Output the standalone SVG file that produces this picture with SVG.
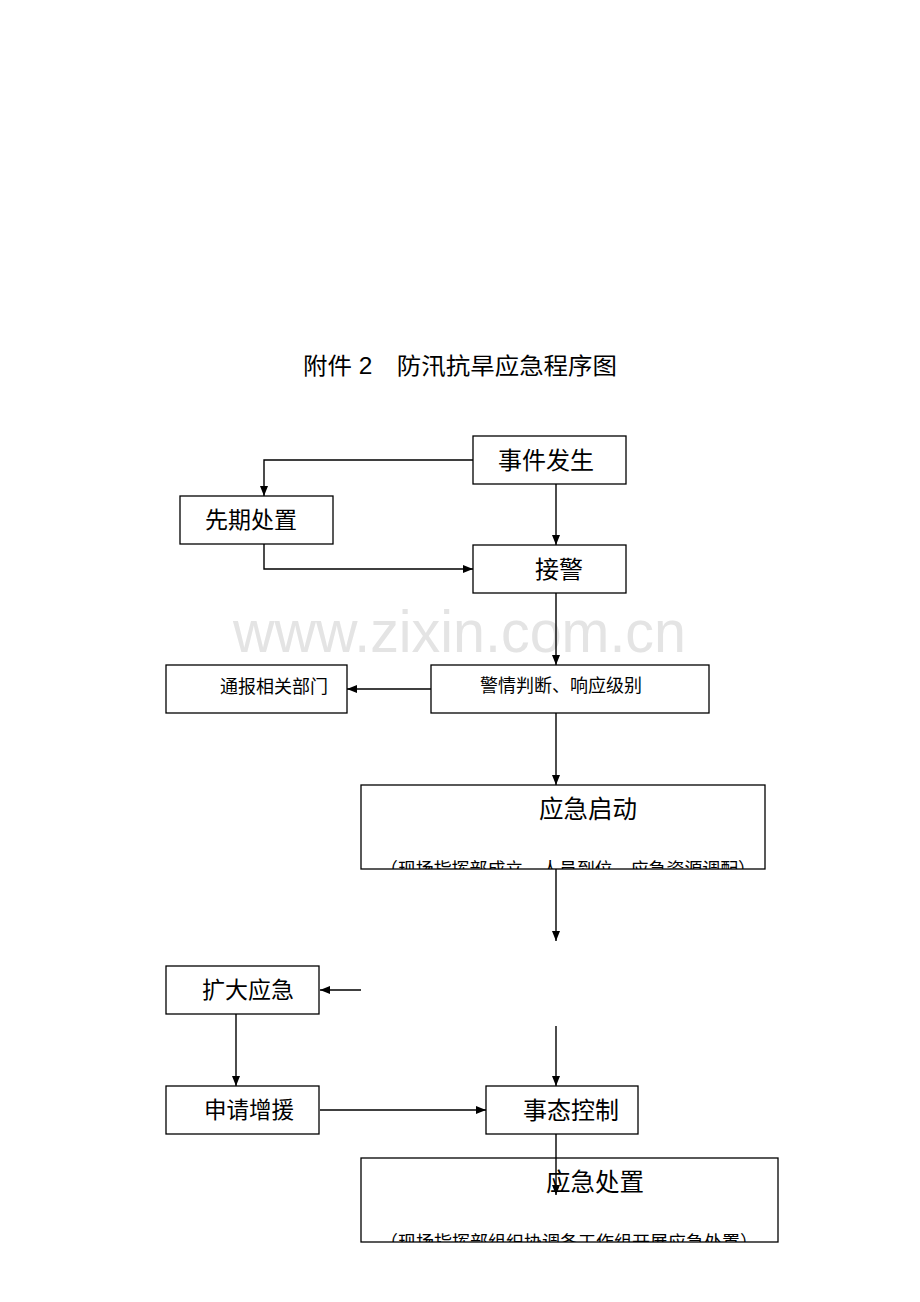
<svg xmlns="http://www.w3.org/2000/svg" width="920" height="1302" viewBox="0 0 920 1302">
<style>
.box{fill:#fff;stroke:#000;stroke-width:1.3}
.t{font-family:"Liberation Sans","Noto Sans CJK SC",sans-serif;fill:#000}
.c{fill:none;stroke:#000;stroke-width:1.4}
.wm{font-family:"Liberation Sans",Arial,sans-serif;fill:#e4e4e4}
</style>
<defs>
<marker id="ah" viewBox="0 0 10 8" refX="10" refY="4" markerWidth="10" markerHeight="9" markerUnits="userSpaceOnUse" orient="auto">
<path d="M0,0 L10,4 L0,8 Z" fill="#000"/>
</marker>
<clipPath id="clip1"><rect x="361" y="785" width="404" height="84"/></clipPath>
<clipPath id="clip2"><rect x="361" y="1158" width="417" height="84"/></clipPath>
</defs>
<rect width="920" height="1302" fill="#fff"/>
<text class="wm" x="233" y="652" font-size="60" textLength="453" lengthAdjust="spacingAndGlyphs">www.zixin.com.cn</text>
<text class="t" x="303" y="374" font-size="23" textLength="314" lengthAdjust="spacingAndGlyphs">附件 2　防汛抗旱应急程序图</text>
<g id="n_shijian"><rect class="box" x="473" y="436" width="153" height="48"/><text class="t" x="498" y="469" font-size="24">事件发生</text></g>
<g id="n_xianqi"><rect class="box" x="180" y="496" width="153" height="48"/><text class="t" x="205" y="528" font-size="23">先期处置</text></g>
<g id="n_jiejing"><rect class="box" x="473" y="545" width="153" height="48"/><text class="t" x="535" y="578" font-size="24">接警</text></g>
<g id="n_tongbao"><rect class="box" x="166" y="665" width="181" height="48"/><text class="t" x="220" y="693" font-size="18">通报相关部门</text></g>
<g id="n_jingqing"><rect class="box" x="431" y="665" width="278" height="48"/><text class="t" x="480" y="692" font-size="18">警情判断、响应级别</text></g>
<g id="n_qidong"><rect class="box" x="361" y="785" width="404" height="84"/><text class="t" x="539" y="818" font-size="24.5">应急启动</text>
<text class="t" x="380" y="875" font-size="17.5" textLength="376" lengthAdjust="spacingAndGlyphs" clip-path="url(#clip1)">（现场指挥部成立、人员到位、应急资源调配）</text></g>
<g id="n_kuoda"><rect class="box" x="166" y="966" width="153" height="48"/><text class="t" x="202" y="998" font-size="23">扩大应急</text></g>
<g id="n_shenqing"><rect class="box" x="166" y="1086" width="153" height="48"/><text class="t" x="204" y="1118" font-size="22.5">申请增援</text></g>
<g id="n_shitai"><rect class="box" x="486" y="1086" width="152" height="48"/><text class="t" x="523" y="1119" font-size="24">事态控制</text></g>
<g id="n_chuzhi"><rect class="box" x="361" y="1158" width="417" height="84"/><text class="t" x="546" y="1191" font-size="24.5">应急处置</text>
<text class="t" x="380" y="1248" font-size="17.5" textLength="378" lengthAdjust="spacingAndGlyphs" clip-path="url(#clip2)">（现场指挥部组织协调各工作组开展应急处置）</text></g>
<g id="connectors">
<path class="c" d="M473,460 H264 V496" marker-end="url(#ah)"/>
<path class="c" d="M556,484 V545" marker-end="url(#ah)"/>
<path class="c" d="M264,544 V569 H473" marker-end="url(#ah)"/>
<path class="c" d="M556,593 V665" marker-end="url(#ah)"/>
<path class="c" d="M431,689 H347" marker-end="url(#ah)"/>
<path class="c" d="M556,713 V785" marker-end="url(#ah)"/>
<path class="c" d="M556,869 V941" marker-end="url(#ah)"/>
<path class="c" d="M361,990 H320" marker-end="url(#ah)"/>
<path class="c" d="M236,1014 V1086" marker-end="url(#ah)"/>
<path class="c" d="M320,1110 H486" marker-end="url(#ah)"/>
<path class="c" d="M556,1026 V1086" marker-end="url(#ah)"/>
<path class="c" d="M556,1134 V1195" marker-end="url(#ah)"/>
</g>
</svg>
